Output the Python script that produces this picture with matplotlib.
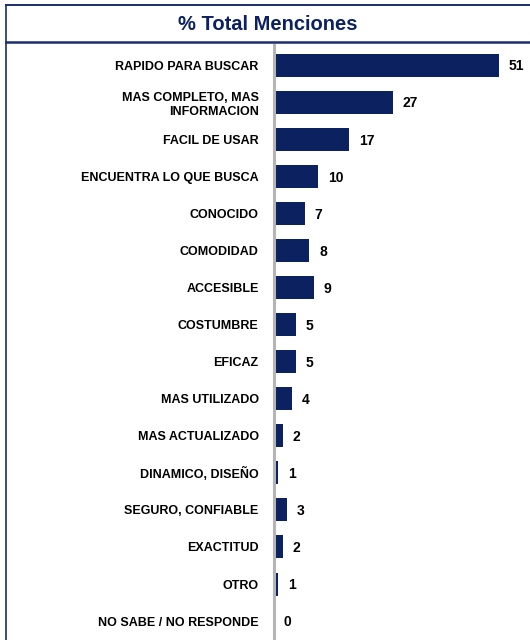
import matplotlib.pyplot as plt
from matplotlib.lines import Line2D
import numpy as np

plt.rcParams['font.family'] = ['Liberation Sans', 'DejaVu Sans']

categorias = ['RAPIDO PARA BUSCAR', 'MAS COMPLETO, MAS\nINFORMACION', 'FACIL DE USAR',
              'ENCUENTRA LO QUE BUSCA', 'CONOCIDO', 'COMODIDAD', 'ACCESIBLE',
              'COSTUMBRE', 'EFICAZ', 'MAS UTILIZADO', 'MAS ACTUALIZADO',
              'DINAMICO, DISEÑO', 'SEGURO, CONFIABLE', 'EXACTITUD', 'OTRO',
              'NO SABE / NO RESPONDE']
valores = [51, 27, 17, 10, 7, 8, 9, 5, 5, 4, 2, 1, 3, 2, 1, 0]

navy = '#0c2160'
W, H = 530, 640
fig = plt.figure(figsize=(W / 100, H / 100), dpi=100)

# marco del titulo
fig.add_artist(Line2D([6 / W, 1], [1 - 5 / H, 1 - 5 / H], color='#1b2d6e', lw=1.4))
fig.add_artist(Line2D([6 / W, 1], [1 - 42 / H, 1 - 42 / H], color='#1b2d6e', lw=1.8))
fig.add_artist(Line2D([6 / W, 6 / W], [0, 1 - 5 / H], color='#1b2d6e', lw=1.2))
fig.text(268 / W, 1 - 24 / H, '% Total Menciones', ha='center', va='center',
         fontsize=14.5, fontweight='bold', color=navy)

ax = fig.add_axes([274 / W, 0, 1 - 274 / W, 1 - 45 / H])
y = np.arange(len(categorias))
bars = ax.barh(y, valores, height=0.62, color=navy)
ax.set_xlim(0, 58)
ax.set_ylim(15.51, -0.54)

for b, v in zip(bars, valores):
    ax.annotate(str(v), (b.get_width(), b.get_y() + b.get_height() / 2),
                xytext=(7, -1), textcoords='offset points', ha='left', va='center',
                fontsize=10, fontweight='bold', color='black')

ax.set_yticks(y)
ax.set_yticklabels(categorias, fontsize=9, fontweight='bold', linespacing=1.25)
ax.tick_params(axis='y', length=0, pad=11)
ax.set_xticks([])
for s in ['top', 'right', 'bottom']:
    ax.spines[s].set_visible(False)
ax.spines['left'].set_color('#b5b5b5')
ax.spines['left'].set_linewidth(2.2)

fig.savefig('out.png', dpi=100)
